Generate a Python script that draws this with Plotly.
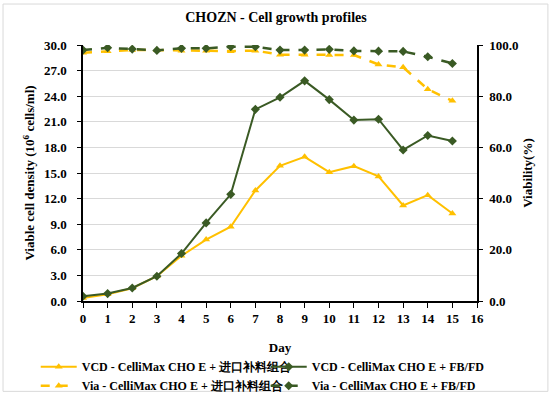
import plotly.graph_objects as go

days = list(range(16))
vcd_import = [0.35, 0.8, 1.5, 2.9, 5.3, 7.2, 8.7, 12.95, 15.85, 16.9, 15.1, 15.8, 14.6, 11.2, 12.4, 10.25]
vcd_fbfd = [0.55, 0.87, 1.53, 2.9, 5.56, 9.15, 12.5, 22.46, 23.87, 25.8, 23.6, 21.2, 21.3, 17.7, 19.4, 18.75]
via_import = [97.0, 97.6, 98.0, 98.0, 97.8, 97.8, 97.6, 97.8, 96.2, 96.2, 96.1, 96.1, 92.4, 91.3, 82.7, 78.2]
via_fbfd = [98.0, 98.9, 98.4, 97.9, 98.7, 98.7, 99.3, 99.3, 98.0, 98.0, 98.3, 97.7, 97.6, 97.5, 95.4, 92.8]

names = ["VCD - CelliMax CHO E + 进口补料组合", "VCD - CelliMax CHO E + FB/FD",
         "Via - CelliMax CHO E + 进口补料组合", "Via - CelliMax CHO E + FB/FD"]

YEL = "#FFC000"
GRN = "#3A5A24"
FONT = "Liberation Serif"

fig = go.Figure()
fig.add_trace(go.Scatter(x=days, y=vcd_import, name=names[0], mode="lines+markers",
                         line=dict(color=YEL, width=2), marker=dict(symbol="triangle-up", size=7, color=YEL)))
fig.add_trace(go.Scatter(x=days, y=vcd_fbfd, name=names[1], mode="lines+markers",
                         line=dict(color=GRN, width=2), marker=dict(symbol="diamond", size=7, color=GRN)))
fig.add_trace(go.Scatter(x=days, y=via_import, name=names[2], mode="lines+markers", yaxis="y2",
                         line=dict(color=YEL, width=2.5, dash="dash"), marker=dict(symbol="triangle-up", size=7, color=YEL)))
fig.add_trace(go.Scatter(x=days, y=via_fbfd, name=names[3], mode="lines+markers", yaxis="y2",
                         line=dict(color=GRN, width=2.5, dash="dash"), marker=dict(symbol="diamond", size=7, color=GRN)))

fig.update_layout(
    width=552, height=397,
    margin=dict(l=83, r=75, t=45, b=96, autoexpand=False),
    paper_bgcolor="white", plot_bgcolor="white",
    font=dict(family=FONT, size=12, color="black"),
    title=dict(text="<b>CHOZN - Cell growth profiles</b>", x=0.5, xanchor="center", y=0.957, yanchor="middle",
               font=dict(family=FONT, size=14, color="black")),
    showlegend=True,
    legend=dict(orientation="h", x=-0.12, xanchor="left", y=-0.2, yanchor="top",
                entrywidth=179, entrywidthmode="pixels", tracegroupgap=0,
                font=dict(family=FONT, size=12, color="black", weight="bold"),
                itemwidth=36, bgcolor="rgba(0,0,0,0)"),
    xaxis=dict(range=[0, 16], dtick=1, tick0=0, showgrid=False, showline=True, linecolor="black", linewidth=1.5,
               ticks="outside", ticklen=5, tickcolor="black", zeroline=False, automargin=True,
               tickfont=dict(family=FONT, size=13, color="black", weight="bold"),
               title=dict(text="<b>Day</b>", font=dict(family=FONT, size=13, color="black"), standoff=18)),
    yaxis=dict(range=[0, 30], dtick=3, tick0=0, tickformat=".1f", showgrid=True, gridcolor="#D9D9D9", gridwidth=1,
               showline=True, linecolor="black", linewidth=1.5, ticks="outside", ticklen=4, tickcolor="black",
               ticklabelstandoff=8,
               zeroline=False, automargin=True, tickfont=dict(family=FONT, size=13, color="black", weight="bold"),
               title=dict(text="<b>Viable cell density (10<sup>6</sup> cells/ml)</b>",
                          font=dict(family=FONT, size=13, color="black"), standoff=6)),
    yaxis2=dict(range=[0, 100], dtick=20, tick0=0, tickformat=".1f", overlaying="y", side="right",
                showgrid=False, showline=True, linecolor="black", linewidth=1.5, ticks="outside", ticklen=4,
                tickcolor="black", zeroline=False, automargin=True, ticklabelstandoff=4,
                tickfont=dict(family=FONT, size=13, color="black", weight="bold"),
                title=dict(text="<b>Viability(%)</b>", font=dict(family=FONT, size=13, color="black"), standoff=5)),
    shapes=[dict(type="rect", xref="paper", yref="paper", x0=-0.203, x1=1.18, y0=-0.353, y1=1.16,
                 line=dict(color="#D9D9D9", width=1), fillcolor="rgba(0,0,0,0)", layer="below")],
)

fig.write_html("out.html", config={"displayModeBar": False},
               post_script="document.body.style.margin='0';")
